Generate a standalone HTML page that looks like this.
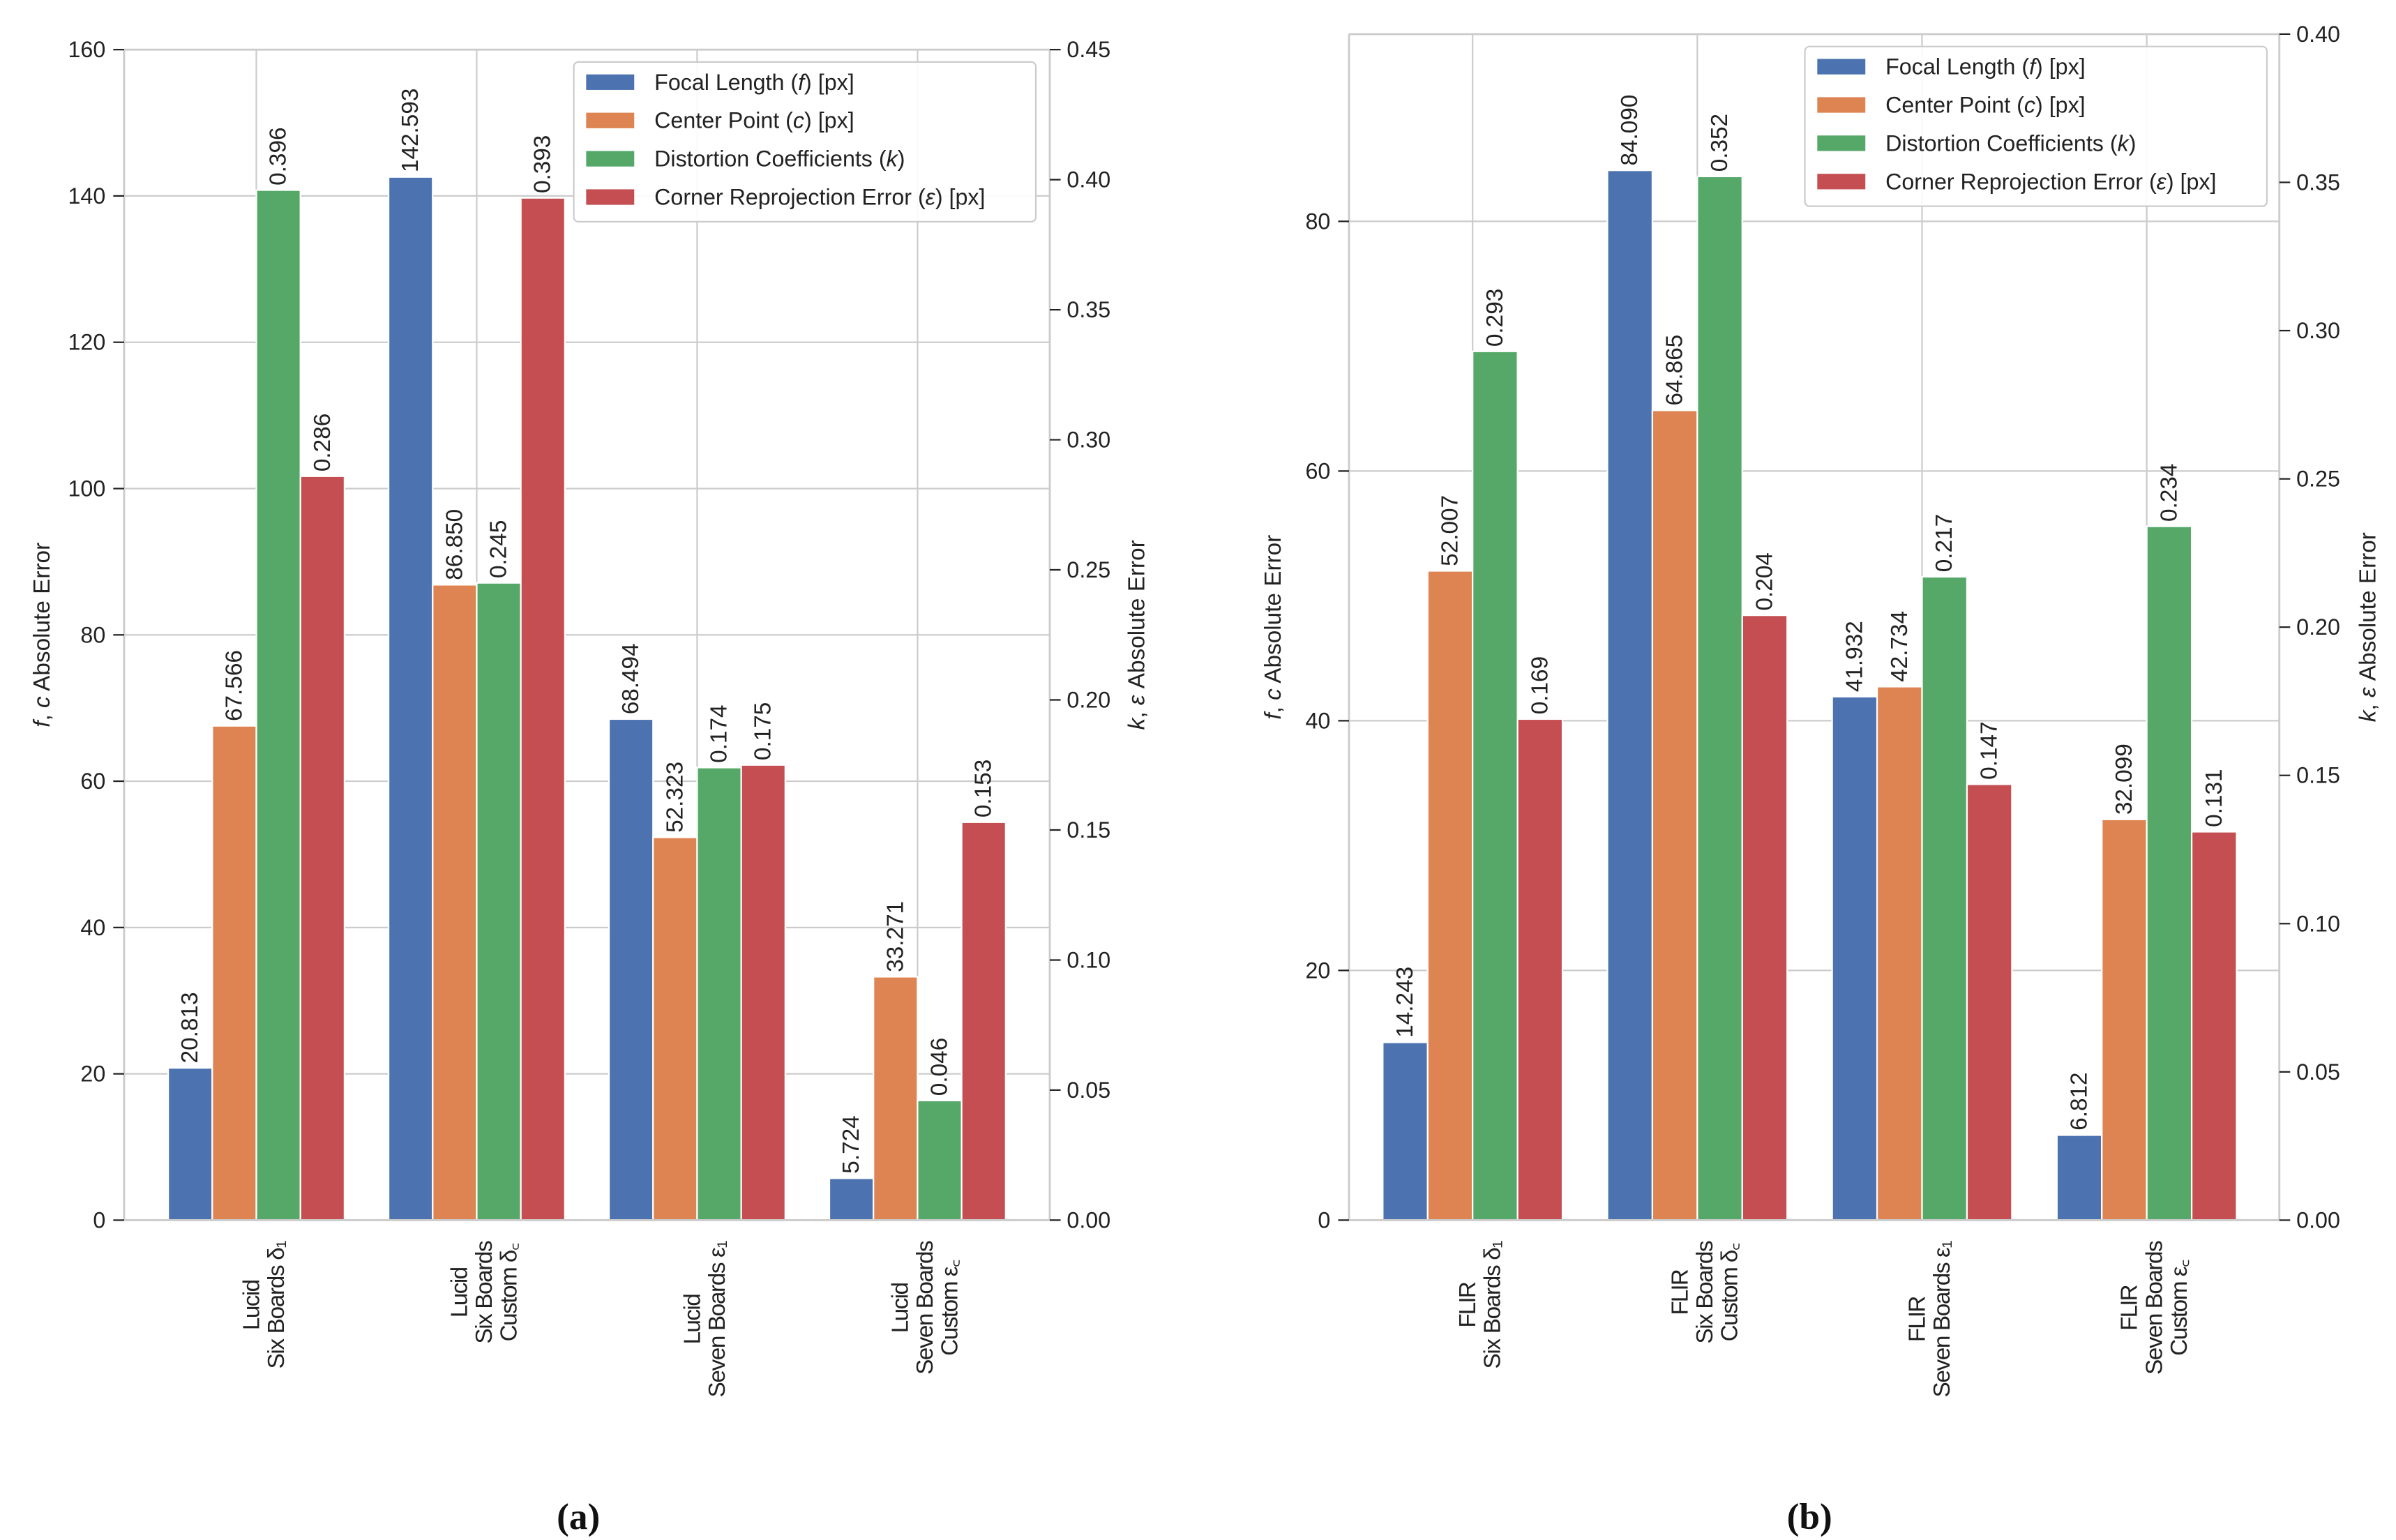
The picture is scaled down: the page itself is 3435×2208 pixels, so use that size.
<!DOCTYPE html>
<html><head><meta charset="utf-8"><style>
html,body{margin:0;padding:0;background:#fff;}
svg{display:block;font-family:"Liberation Sans",sans-serif;}
</style></head><body>
<svg id="fig" width="3435" height="2208" viewBox="0 0 1545.2 993.3" xmlns="http://www.w3.org/2000/svg"></svg>
<script>
const seriesNames=["Focal Length (𝑓) [px]","Center Point (𝑐) [px]","Distortion Coefficients (𝑘)","Corner Reprojection Error (𝜀) [px]"];
const legendNames=[["Focal Length (","f",") [px]"],["Center Point (","c",") [px]"],["Distortion Coefficients (","k",")"],["Corner Reprojection Error (","ε",") [px]"]];
const colors=["#4c72b0","#dd8452","#55a868","#c44e52"];
const catsA=[["Lucid","Six Boards δ₁"],["Lucid","Six Boards","Custom δ꜀"],["Lucid","Seven Boards ε₁"],["Lucid","Seven Boards","Custom ε꜀"]];
const catsB=[["FLIR","Six Boards δ₁"],["FLIR","Six Boards","Custom δ꜀"],["FLIR","Seven Boards ε₁"],["FLIR","Seven Boards","Custom ε꜀"]];
const focalA=[20.813,142.593,68.494,5.724];
const centerA=[67.566,86.850,52.323,33.271];
const distA=[0.396,0.245,0.174,0.046];
const reprojA=[0.286,0.393,0.175,0.153];
const focalB=[14.243,84.090,41.932,6.812];
const centerB=[52.007,64.865,42.734,32.099];
const distB=[0.293,0.352,0.217,0.234];
const reprojB=[0.169,0.204,0.147,0.131];
const leftTicksA=[0,20,40,60,80,100,120,140,160];
const rightTicksA=[0,0.05,0.10,0.15,0.20,0.25,0.30,0.35,0.40,0.45];
const leftTicksB=[0,20,40,60,80];
const rightTicksB=[0,0.05,0.10,0.15,0.20,0.25,0.30,0.35,0.40];

const NS="http://www.w3.org/2000/svg";
const svg=document.getElementById('fig');
function el(tag,attrs,parent,text){const e=document.createElementNS(NS,tag);for(const k in attrs)e.setAttribute(k,attrs[k]);if(text!==undefined)e.textContent=text;(parent||svg).appendChild(e);return e;}

function panel(cfg){
  const g=el('g',{});
  
  
  const {L,R,T,B}=cfg;
  const xs=c=>L+(c-cfg.xmin)/(cfg.xmax-cfg.xmin)*(R-L);
  const yl=v=>B-v/cfg.ylmax*(B-T);
  const yr=v=>B-v/cfg.yrmax*(B-T);
  // grid
  cfg.leftTicks.forEach(t=>{const l=el('line',{x1:L,x2:R,y1:yl(t),y2:yl(t),stroke:'#cccccc','stroke-width':1},g);
    
    });
  cfg.cats.forEach((c,i)=>{const l=el('line',{x1:xs(i),x2:xs(i),y1:T,y2:B,stroke:'#cccccc','stroke-width':1},g);
    
    });
  // bars
  const series=[cfg.focal,cfg.center,cfg.dist,cfg.reproj];
  const useRight=[false,false,true,true];
  const bw=0.2;
  series.forEach((arr,s)=>{arr.forEach((v,i)=>{
    const cx=i-0.4+bw*(s+0.5);
    const x0=xs(cx-bw/2),x1=xs(cx+bw/2);
    const y=useRight[s]?yr(v):yl(v);
    const r=el('rect',{x:x0,y:y,width:x1-x0,height:B-y,fill:colors[s],stroke:'#ffffff','stroke-width':1},g);
    
    
    const lab=(useRight[s]?v.toFixed(3):v.toFixed(3));
    const tx=xs(cx), ty=y-3;
    const t=el('text',{x:tx,y:ty,transform:`rotate(-90 ${tx} ${ty})`,'dominant-baseline':'central','font-size':15,fill:'#222'},g,lab);
    
    
  });});
  // spines
  [[L,T,R,T],[L,B,R,B],[L,T,L,B],[R,T,R,B]].forEach(p=>{const l=el('line',{x1:p[0],y1:p[1],x2:p[2],y2:p[3],stroke:'#cccccc','stroke-width':1.3},g);
    
    });
  // ticks
  cfg.leftTicks.forEach(t=>{const y=yl(t);
    el('line',{x1:L-7,x2:L,y1:y,y2:y,stroke:'#222','stroke-width':1},g);
    const tt=el('text',{x:L-12,y:y,'text-anchor':'end','dominant-baseline':'central','font-size':14.5,fill:'#222'},g,String(t));
    
    });
  cfg.rightTicks.forEach(t=>{const y=yr(t);
    el('line',{x1:R,x2:R+7,y1:y,y2:y,stroke:'#222','stroke-width':1},g);
    const tt=el('text',{x:R+11,y:y,'dominant-baseline':'central','font-size':14.5,fill:'#222'},g,t.toFixed(2));
    
    });
  // category labels
  cfg.cats.forEach((lines,i)=>{
    const n=lines.length, cx=xs(i), lh=16;
    const texts=lines.map((ln,j)=>{const x=cx+(j-(n-1)/2)*lh+5;
      const t=el('text',{x:x,y:0,'text-anchor':'middle','dominant-baseline':'central','font-size':15,fill:'#222'},g,ln);
      
      
      return t;});
    const maxW=Math.max(...texts.map(t=>t.getComputedTextLength()))*0.92;
    const cy=B+13+maxW/2;
    texts.forEach(t=>{const x=+t.getAttribute('x');t.setAttribute('y',cy);t.setAttribute('transform',`rotate(-90 ${x} ${cy})`);t.setAttribute('textLength',t.getComputedTextLength()*0.92);});
  });
  // axis titles
  const ly=(T+B)/2;
  const a1=el('text',{x:cfg.lx,y:ly,transform:`rotate(-90 ${cfg.lx} ${ly})`,'text-anchor':'middle','font-size':15,fill:'#222'},g);
  
  
  el('tspan',{'font-style':'italic'},a1,'f');el('tspan',{},a1,', ');el('tspan',{'font-style':'italic'},a1,'c');el('tspan',{},a1,' Absolute Error');
  const a2=el('text',{x:cfg.rx,y:ly,transform:`rotate(-90 ${cfg.rx} ${ly})`,'text-anchor':'middle','font-size':15,fill:'#222'},g);
  
  
  el('tspan',{'font-style':'italic'},a2,'k');el('tspan',{},a2,', ');el('tspan',{'font-style':'italic'},a2,'ε');el('tspan',{},a2,' Absolute Error');
  // legend
  const lg=el('g',{},g);
  
  
  el('rect',{x:cfg.legX,y:cfg.legY,width:298,height:103,rx:3,fill:'#ffffff','fill-opacity':0.9,stroke:'#cccccc','stroke-width':1},lg);
  legendNames.forEach((nm,s)=>{const y=cfg.legY+13+s*24.7;
    const p=el('rect',{x:cfg.legX+8,y:y-5,width:31,height:10,fill:colors[s]},lg);
    
    
    const t=el('text',{x:cfg.legX+52,y:y,'dominant-baseline':'central','font-size':14.5,fill:'#222'},lg);
    
    
    el('tspan',{},t,nm[0]);el('tspan',{'font-style':'italic'},t,nm[1]);el('tspan',{},t,nm[2]);});
  // caption
  const c=el('text',{x:cfg.capX,y:986,'text-anchor':'middle','font-size':24,'font-family':'Liberation Serif, serif','font-weight':'bold',fill:'#111'},g,cfg.cap);
  
  
}
panel({name:'chart-a-lucid',L:80,R:677,T:32,B:787,xmin:-0.6,xmax:3.6,ylmax:160,yrmax:0.45,
  leftTicks:leftTicksA,rightTicks:rightTicksA,cats:catsA,focal:focalA,center:centerA,dist:distA,reproj:reprojA,
  lx:32,rx:738,legX:370,legY:40,capX:373,cap:'(a)'});
panel({name:'chart-b-flir',L:870,R:1470,T:22,B:787,xmin:-0.55,xmax:3.59,ylmax:95,yrmax:0.40,
  leftTicks:leftTicksB,rightTicks:rightTicksB,cats:catsB,focal:focalB,center:centerB,dist:distB,reproj:reprojB,
  lx:826,rx:1532,legX:1164,legY:30,capX:1167,cap:'(b)'});
</script>
</body></html>
